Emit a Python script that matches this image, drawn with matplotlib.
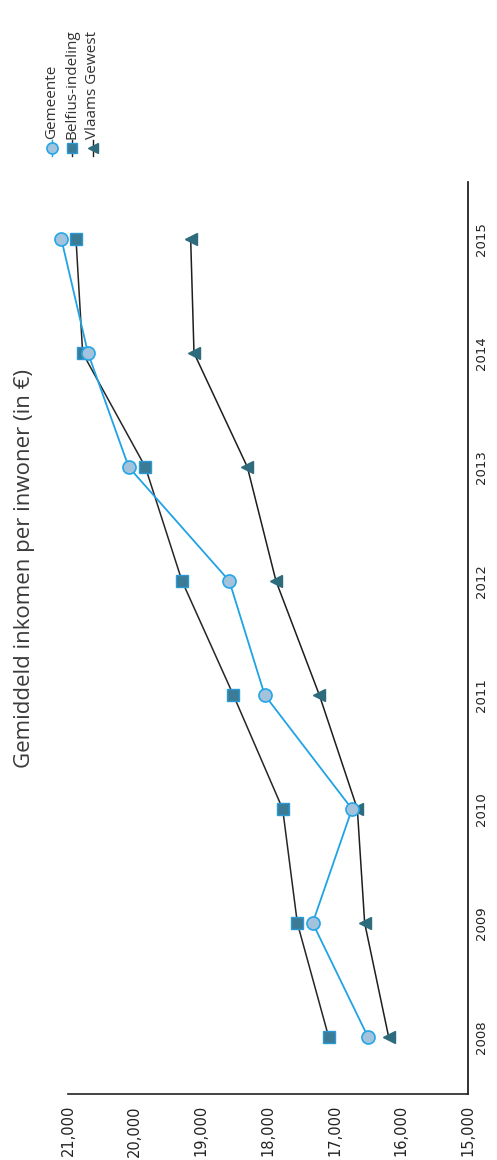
import matplotlib.pyplot as plt
from matplotlib.lines import Line2D
from matplotlib.ticker import FuncFormatter

# chart is drawn turned a quarter turn (years run bottom -> top, values right -> left)
years = ["2008", "2009", "2010", "2011", "2012", "2013", "2014", "2015"]
gemeente = [16500, 17330, 16740, 18050, 18580, 20090, 20700, 21100]
belfius = [17090, 17560, 17780, 18520, 19290, 19840, 20780, 20880]
vlaams = [16190, 16550, 16660, 17230, 17880, 18310, 19110, 19160]
value_ticks = [15000, 16000, 17000, 18000, 19000, 20000, 21000]
series_names = ["Gemeente", "Belfius-indeling", "Vlaams Gewest"]

W, H = 497, 1160
fig = plt.figure(figsize=(W / 100, H / 100), dpi=100)
ax = fig.add_axes([68 / W, 66 / H, (468 - 68) / W, (1094 - 182) / H])

styles = [
    dict(color="#1fa3e4", lw=1.3, marker="o", ms=9.4, mfc="#a3c3dc", mec="#25a6e8", mew=1.2),
    dict(color="#262626", lw=1.1, marker="s", ms=8.6, mfc="#3c7b96", mec="#2a9ad6", mew=1.0),
    dict(color="#1e1e1e", lw=1.1, marker="<", ms=8.0, mfc="#2d6b7d", mec="#2d6b7d", mew=1.0),
]

for vals, st, z in zip([vlaams, belfius, gemeente], styles[::-1], [3, 4, 5]):
    ax.plot(vals, years, clip_on=False, zorder=z, **st)

ax.set_xlim(21000, 15000)
ax.set_ylim(-0.5, len(years) - 0.5)
ax.set_xticks(value_ticks)
ax.xaxis.set_major_formatter(FuncFormatter(lambda v, p: f"{int(v):,}"))

for s in ["left", "top"]:
    ax.spines[s].set_visible(False)
ax.spines["bottom"].set_color("#222222")
ax.spines["right"].set_color("#111111")
ax.spines["bottom"].set_linewidth(1.2)
ax.spines["right"].set_linewidth(1.2)

ax.yaxis.tick_right()
ax.tick_params(axis="x", length=0, pad=8, labelsize=10.5, labelrotation=90, colors="#222222")
ax.tick_params(axis="y", length=0, pad=5, labelsize=9.5, labelrotation=90, colors="#222222")
for lbl in ax.get_yticklabels():
    lbl.set_va("center")
    lbl.set_ha("left")

fig.text(25 / W, 1 - 568 / H, "Gemiddeld inkomen per inwoner (in \u20ac)",
         rotation=90, ha="center", va="center", fontsize=16,
         family=["Open Sans", "DejaVu Sans"], color="#3a3a3a")

# legend, turned with the chart
leg_x = [52, 72, 93]
for name, st, lx in zip(series_names, styles, leg_x):
    fx = lx / W
    fig.add_artist(Line2D([fx, fx], [1 - 156 / H, 1 - 140 / H], transform=fig.transFigure,
                          color=st["color"], lw=1.0))
    fig.add_artist(Line2D([fx], [1 - 148 / H], transform=fig.transFigure,
                          marker=st["marker"], ms=st["ms"] * 0.85, mfc=st["mfc"],
                          mec=st["mec"], mew=st["mew"], lw=0))
    fig.text(fx, 1 - 139 / H, name, rotation=90, ha="center", va="bottom",
             fontsize=11, family=["Open Sans", "DejaVu Sans"], color="#333333")

fig.savefig("out.png", dpi=100)
